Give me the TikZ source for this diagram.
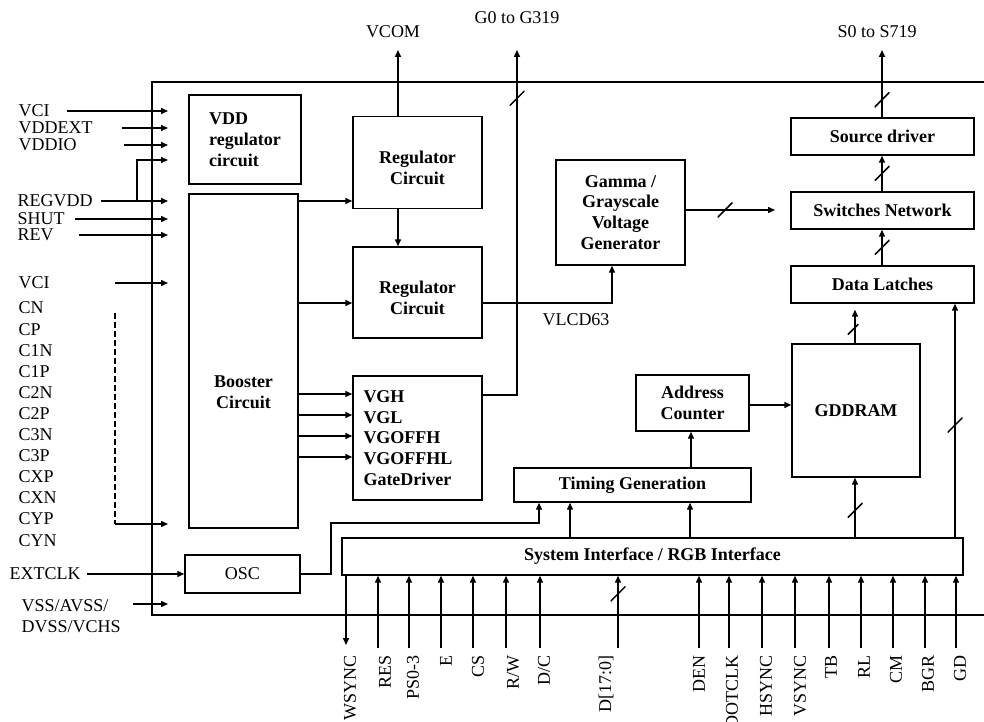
\documentclass[tikz,border=0pt]{standalone}
\usepackage{fontspec}
\setmainfont{Liberation Serif}
\usetikzlibrary{arrows.meta}

\newlength\px
\setlength\px{0.25mm}
\newcommand\dgfont{\fontsize{12.8}{14.8}\selectfont}
\newcommand\txtdrop{\rule{0pt}{16pt}}

\tikzstyle{blk} = [rectangle, draw=black, font=\dgfont\bfseries, align=center, inner sep=2pt]
\tikzstyle{lbl} = [anchor=west, inner sep=0pt]
\tikzstyle{pinlbl} = [rotate=90, anchor=east, inner sep=0pt]
\tikzstyle{bus} = [draw=none, inner sep=0pt, minimum size=15\px,
  path picture={\draw[-, line width=1.05pt] (path picture bounding box.south west) -- (path picture bounding box.north east);}]

\begin{document}
\begin{tikzpicture}[x=0.25mm, y=-0.25mm, line width=1.05pt, font=\dgfont,
  >={Triangle[length=1.75mm,width=1.5mm]}]
\useasboundingbox (0,0) rectangle (984,722);

% chip outline (open to the right)
\draw (984,82) -| (152,615) -- (984,615);

% blocks
\node[blk, align=left, minimum width=112\px, minimum height=89\px] (vddreg) at (245,139.5) {VDD\\regulator\\circuit};
\node[blk, minimum width=109\px, minimum height=334\px] (booster) at (243.5,361) {};
\node[font=\dgfont\bfseries, align=center] (boosterlbl) at (243.5,392) {Booster\\Circuit};
\node[blk, font=\dgfont, minimum width=115\px, minimum height=38\px] (osc) at (242.5,574) {OSC};

\node[blk, minimum width=129\px, minimum height=92\px] (reg1) at (417.5,162.5) {\txtdrop Regulator\\Circuit};
\node[blk, minimum width=129\px, minimum height=91\px] (reg2) at (417.5,292.5) {\txtdrop Regulator\\Circuit};
\node[blk, align=left, text width=108\px, minimum width=129\px, minimum height=124\px] (gate) at (417.5,438)
  {VGH\\VGL\\VGOFFH\\VGOFFHL\\GateDriver};
\node[blk, minimum width=129\px, minimum height=105\px] (gamma) at (620.5,212.5) {Gamma /\\Grayscale\\Voltage\\Generator};

\node[blk, minimum width=183\px, minimum height=37\px] (source) at (882.5,136.5) {Source driver};
\node[blk, minimum width=183\px, minimum height=37\px] (switches) at (882.5,210.5) {Switches Network};
\node[blk, minimum width=183\px, minimum height=37\px] (latches) at (882.5,284.5) {Data Latches};
\node[blk, minimum width=128\px, minimum height=133\px] (gddram) at (856,410.5) {GDDRAM};
\node[blk, minimum width=113\px, minimum height=56\px] (addr) at (692.5,403) {Address\\Counter};
\node[blk, minimum width=237\px, minimum height=34\px] (timing) at (632.5,485) {Timing Generation};
\node[blk, minimum width=621\px, minimum height=37\px] (sysif) at (652.5,556.5) {System Interface / RGB Interface};

% outputs on top
\node (vcomlbl) at (393,32) {VCOM};
\node (glbl) at (517,18) {G0 to G319};
\node (slbl) at (877,32) {S0 to S719};
\coordinate (vcom) at (398,50);
\coordinate (gout) at (517,50);
\coordinate (sout) at (882,50);

\draw[->] (vcom |- reg1.north) -- (vcom);
\draw[->] (vcom |- reg1.south) -- (vcom |- reg2.north);
\draw[->] (gate.east |- 0,395) -| node[bus, pos=0.93] {} (gout);
\draw[->] (sout |- source.north) -- node[bus, pos=0.26] {} (sout);

% booster outputs
\draw[->] (booster.east |- 0,201) -- (reg1.west |- 0,201);
\draw[->] (booster.east |- 0,303) -- (reg2.west |- 0,303);
\foreach \y in {394,415,436,457}
  \draw[->] (booster.east |- 0,\y) -- (gate.west |- 0,\y);

\draw[->] (reg2.east |- 0,303) -| (gamma.south -| 612,0);
\node (vlcd) at (576,320) {VLCD63};
\coordinate (gsw) at (775,210);
\draw[->] (gamma.east |- gsw) -- node[bus, pos=0.44] {} (gsw);

% source path
\draw[->] (latches.north -| sout) -- node[bus] {} (switches.south -| sout);
\draw[->] (switches.north -| sout) -- node[bus] {} (source.south -| sout);
\draw[->, shorten >=6\px] (gddram.north -| 855,0) -- node[bus, pos=0.4] {} (latches.south -| 855,0);
\draw[->] (sysif.north -| 855,0) -- node[bus, pos=0.45] {} (gddram.south -| 855,0);
\draw[->] (sysif.north -| 955,0) -- node[bus, pos=0.48] {} (latches.south -| 955,0);

% control
\draw[->] (sysif.north -| 570,0) -- (timing.south -| 570,0);
\draw[->] (sysif.north -| 690,0) -- (timing.south -| 690,0);
\draw[->] (timing.north -| 691,0) -- (addr.south -| 691,0);
\draw[->] (addr.east |- 0,405) -- (gddram.west |- 0,405);
\coordinate (ck) at (331,523);
\draw[->] (osc.east) -| (ck) -| (timing.south -| 539,0);

% left side pins
\coordinate (pinx) at (168,0);
\node[lbl] (vci) at (18,111) {VCI};
\node[lbl] (vddext) at (18,128) {VDDEXT};
\node[lbl] (vddio) at (18,145) {VDDIO};
\node[lbl] (regvdd) at (17,201) {REGVDD};
\node[lbl] (shut) at (17,219) {SHUT};
\node[lbl] (rev) at (17,235) {REV};
\node[lbl] (vcib) at (18,283) {VCI};
\foreach \nm [count=\i] in {CN,CP,C1N,C1P,C2N,C2P,C3N,C3P,CXP,CXN,CYP,CYN}
  \node[lbl] (cap\i) at (18,287+21.1*\i) {\nm};
\node[lbl] (extclk) at (9,574) {EXTCLK};
\node[lbl, align=left] (vss) at (21,616) {VSS/AVSS/\\DVSS/VCHS};

\draw[->, shorten <=17\px] (vci) -- (vci -| pinx);
\draw[->, shorten <=29\px] (vddext) -- (vddext -| pinx);
\draw[->, shorten <=47\px] (vddio) -- (vddio -| pinx);
\draw[->, shorten <=8\px] (regvdd) -- (regvdd -| pinx);
\coordinate (regtap) at (137,201);
\draw[->] (regtap) |- (pinx |- 0,160);
\draw[->, shorten <=10\px] (shut) -- (shut -| pinx);
\draw[->, shorten <=25\px] (rev) -- (rev -| pinx);
\draw[->, shorten <=65\px] (vcib) -- (vcib -| pinx);
\coordinate (dtop) at (115,313);
\coordinate (dbot) at (115,524);
\draw[dash pattern=on 1.5mm off 0.75mm] (dtop) -- (dbot);
\draw[->] (dbot) -- (dbot -| pinx);
\draw[->, shorten <=6\px] (extclk) -- (osc);
\draw[->, shorten <=12\px] (vss.east |- 0,604) -- (pinx |- 0,604);

% bottom pins
\node[pinlbl] (wsync) at (350,655) {WSYNC};
\coordinate (wsyncend) at (346,645);
\draw[->] (wsyncend |- sysif.south) -- (wsyncend);
\foreach \nm/\lx/\tx [count=\i] in {RES/378/385, PS0-3/409/413, E/441/446, CS/473/478, {R/W}/506/513,
    {D/C}/540/544, {D[17:0]}/618/606, DEN/699/699, DOTCLK/729/732, HSYNC/762/766, VSYNC/795/800,
    TB/829/831, RL/861/864, CM/893/896, BGR/925/928, GD/956/960} {
  \node[pinlbl] (pin\i) at (\tx,655) {\nm};
  \coordinate (pinend\i) at (\lx,648);
  \draw[->] (pinend\i) -- (pinend\i |- sysif.south);
}
\path (pinend7) -- node[bus, pos=0.75] {} (pinend7 |- sysif.south);

\end{tikzpicture}
\end{document}
